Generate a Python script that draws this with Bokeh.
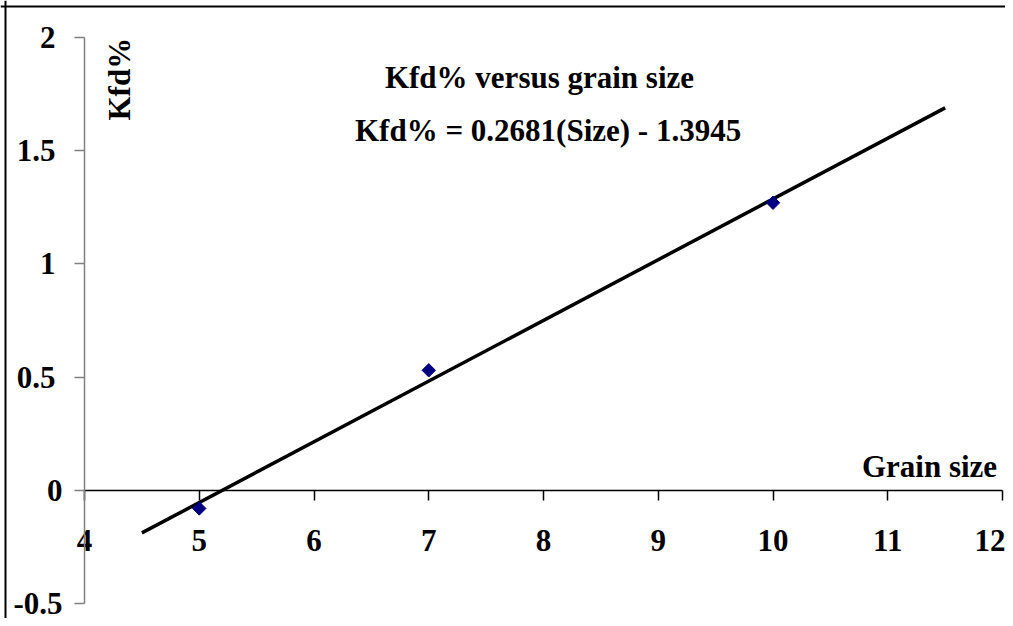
import math
from bokeh.plotting import figure
from bokeh.models import Range1d, LinearAxis, FixedTicker, Label, Span
from bokeh.embed import file_html
from bokeh.resources import INLINE

# ---- data ----
grain_size = [5, 7, 10]
kfd_pct = [-0.08, 0.53, 1.27]
slope = 0.2681
intercept = -1.3945
trend_x = [4.5, 11.5]
x_ticks = [4, 5, 6, 7, 8, 9, 10, 11, 12]
y_ticks = [-0.5, 0, 0.5, 1, 1.5, 2]
title_text = "Kfd% versus grain size"
equation_text = "Kfd% = 0.2681(Size) - 1.3945"
x_title = "Grain size"
y_title = "Kfd%"

trend_y = [slope * x + intercept for x in trend_x]

FONT = "Liberation Serif"
FS = "31px"

W, H = 1005, 618
p = figure(width=W, height=H, output_backend="svg", toolbar_location=None,
           x_range=Range1d(3.268, 12.026), y_range=Range1d(-0.566, 2.163),
           x_axis_type=None, y_axis_type=None,
           min_border_left=0, min_border_right=0,
           min_border_top=0, min_border_bottom=0)
p.outline_line_color = None
p.xgrid.visible = False
p.ygrid.visible = False
p.background_fill_color = "white"
p.border_fill_color = "white"


def make_yaxis(ticks, standoff, show_line):
    ax = LinearAxis(ticker=FixedTicker(ticks=ticks), fixed_location=4, bounds=(-0.5, 2))
    ax.axis_line_color = "#808080" if show_line else None
    ax.axis_line_width = 1.5
    ax.major_tick_line_color = "#808080"
    ax.major_tick_line_width = 1.5
    ax.major_tick_out = 10
    ax.major_tick_in = 0
    ax.minor_tick_line_color = None
    ax.major_label_standoff = standoff
    ax.major_label_text_font = FONT
    ax.major_label_text_font_style = "bold"
    ax.major_label_text_font_size = FS
    ax.major_label_text_color = "black"
    ax.major_label_overrides = {t: ("%g" % t) for t in ticks}
    return ax


# y axis crossing at x = 4 (positive and non-positive ticks labelled separately)
pos_ticks = [t for t in y_ticks if t > 0]
neg_ticks = [t for t in y_ticks if t <= 0]
p.add_layout(make_yaxis(pos_ticks, 19, True), "left")
p.add_layout(make_yaxis(neg_ticks, 12, False), "left")

# x axis crossing at y = 0
xaxis = LinearAxis(ticker=FixedTicker(ticks=x_ticks), fixed_location=0, bounds=(4, 12))
xaxis.axis_line_color = "black"
xaxis.axis_line_width = 1.5
xaxis.major_tick_line_color = "black"
xaxis.major_tick_line_width = 1.5
xaxis.major_tick_out = 10
xaxis.major_tick_in = 0
xaxis.minor_tick_line_color = None
xaxis.major_label_standoff = 30
xaxis.major_label_text_font = FONT
xaxis.major_label_text_font_style = "bold"
xaxis.major_label_text_font_size = FS
xaxis.major_label_text_color = "black"
p.add_layout(xaxis, "below")

# trendline and points
p.line(trend_x, trend_y, line_color="black", line_width=3.5)
p.scatter(grain_size, kfd_pct, marker="square", angle=math.pi / 4, size=9.5,
          fill_color="#000080", line_color="#000080")

# texts
def lab(text, x, y, align="left", angle=0.0):
    return Label(x=x, y=y, text=text, text_font=FONT, text_font_style="bold",
                 text_font_size=FS, text_color="black", text_align=align,
                 text_baseline="alphabetic", angle=angle)

p.add_layout(lab(title_text, 7.965, 1.823, "center"))
p.add_layout(lab(equation_text, 8.04, 1.589, "center"))
p.add_layout(lab(x_title, 10.775, 0.105, "left"))
p.add_layout(lab(y_title, 4.305, 1.633, "left", angle=math.pi / 2))

# chart border (top and left edges visible in the crop)
p.add_layout(Span(location=6, location_units="canvas", dimension="width",
                  line_color="black", line_width=2))
p.add_layout(Span(location=5, location_units="canvas", dimension="height",
                  line_color="black", line_width=2))

open("out.html", "w").write(file_html(p, INLINE))
